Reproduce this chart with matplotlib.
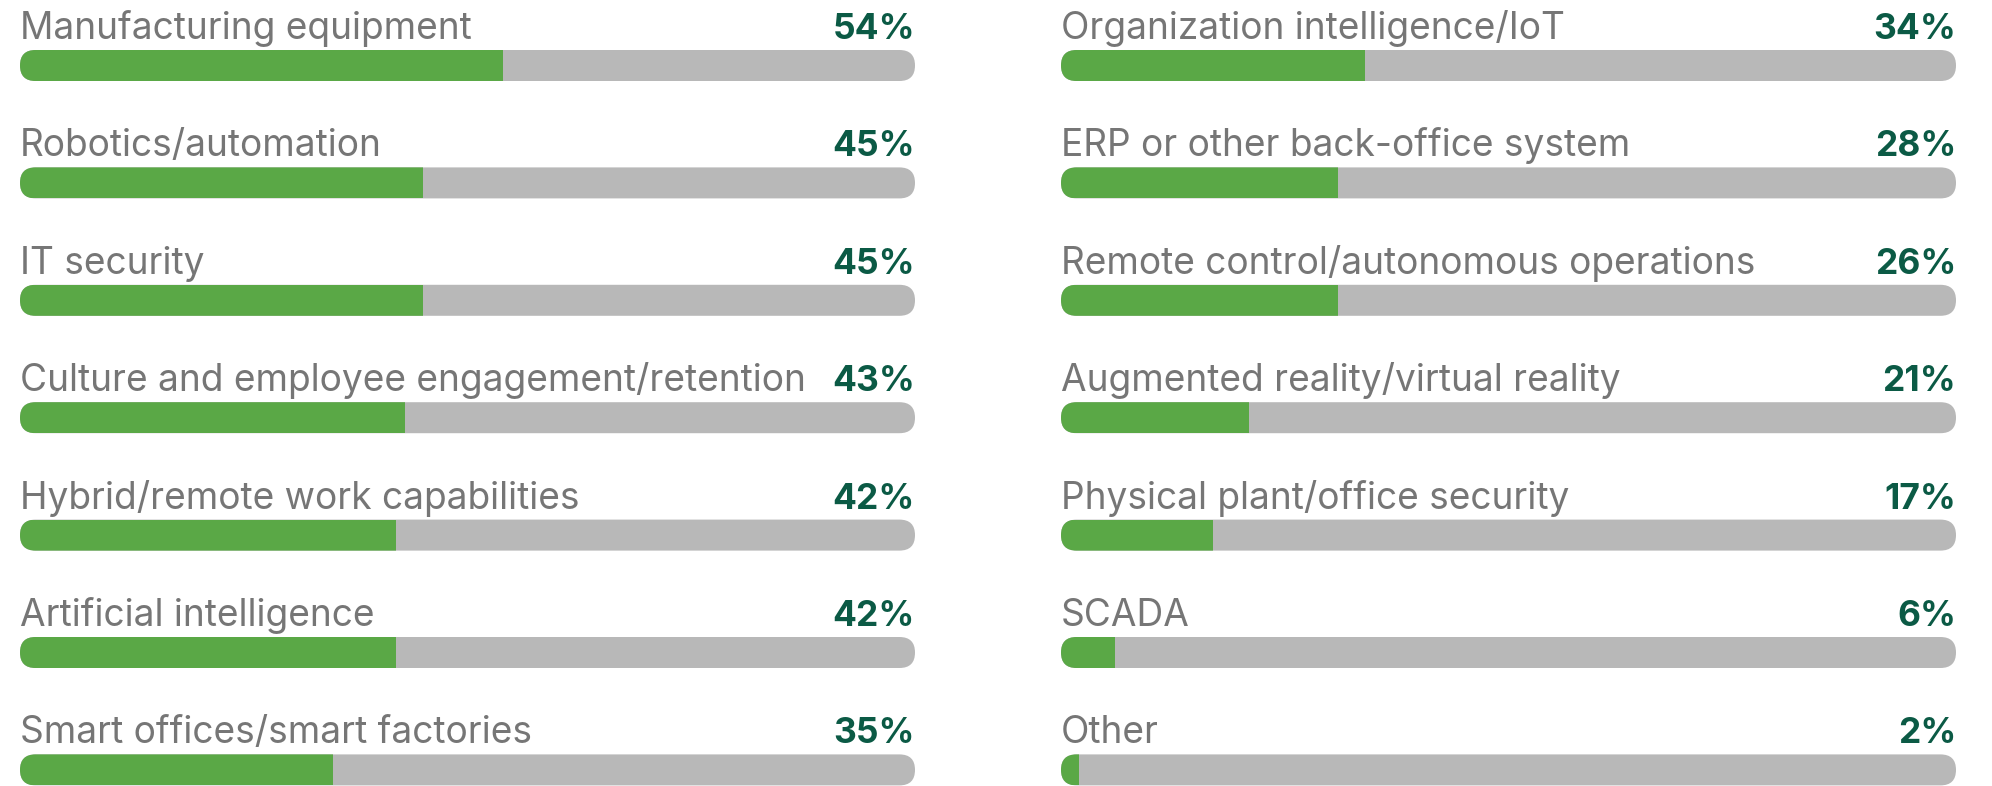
import matplotlib.pyplot as plt
from matplotlib.patches import FancyBboxPatch, Rectangle

# data
left_labels = ['Manufacturing equipment', 'Robotics/automation', 'IT security',
               'Culture and employee engagement/retention', 'Hybrid/remote work capabilities',
               'Artificial intelligence', 'Smart offices/smart factories']
left_values = [54, 45, 45, 43, 42, 42, 35]
left_fill = [54, 45, 45, 43, 42, 42, 35]

right_labels = ['Organization intelligence/IoT', 'ERP or other back-office system',
                'Remote control/autonomous operations', 'Augmented reality/virtual reality',
                'Physical plant/office security', 'SCADA', 'Other']
right_values = [34, 28, 26, 21, 17, 6, 2]
# bar lengths as drawn in the original (28% and 26% bars are drawn equal)
right_fill = [34, 31, 31, 21, 17, 6, 2]

green = '#5aa846'
grey = '#b8b8b8'
dark = '#0b5a45'
text_grey = '#767676'

plt.rcParams['font.family'] = ['Inter', 'DejaVu Sans']

W, H = 1992, 786
fig = plt.figure(figsize=(W / 100, H / 100), dpi=100)

bar_px = 31
row_px = 117.4
top_px = 65.5


def draw_column(ax, labels, values, fill):
    width_px = ax.get_position().width * W
    r = (bar_px / 2) / width_px * 100  # radius in x data units
    h = bar_px / row_px               # bar height in y data units
    aspect = (h / 2) / r
    ax.set_xlim(0, 100)
    ax.set_ylim((H - top_px) / row_px, -top_px / row_px)
    ax.axis('off')
    for i, (lab, val, f) in enumerate(zip(labels, values, fill)):
        # grey pill-shaped track
        track = FancyBboxPatch((0, i - h / 2), 100, h,
                               boxstyle=f'round,pad=0,rounding_size={r}',
                               mutation_aspect=aspect, fc=grey, ec='none', zorder=1)
        ax.add_patch(track)
        # green part, clipped to the track shape
        bar = Rectangle((0, i - h / 2), f, h, fc=green, ec='none', zorder=2)
        ax.add_patch(bar)
        bar.set_clip_path(track)
        ax.text(0, i - 0.225, lab, fontsize=26.7, color=text_grey, va='baseline', ha='left')
        ax.text(100, i - 0.225, f'{val}%', fontsize=25.5, color=dark, fontweight='bold',
                va='baseline', ha='right')


ax1 = fig.add_axes([20 / W, 0, 895 / W, 1])
ax2 = fig.add_axes([1061 / W, 0, 895 / W, 1])
draw_column(ax1, left_labels, left_values, left_fill)
draw_column(ax2, right_labels, right_values, right_fill)

fig.savefig('out.png', dpi=100)
plt.close()
